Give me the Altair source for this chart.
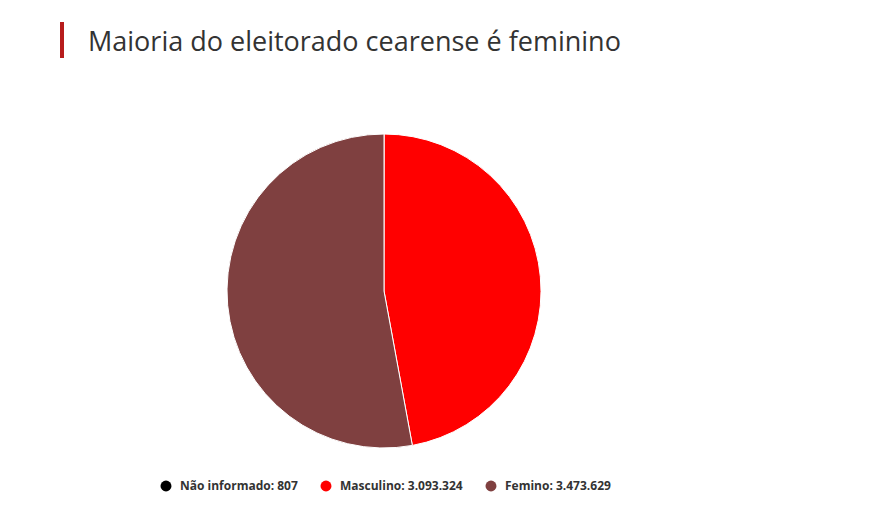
import altair as alt
import pandas as pd

categories = ["Não informado", "Masculino", "Femino"]
values = [807, 3093324, 3473629]
labels = ["Não informado: 807", "Masculino: 3.093.324", "Femino: 3.473.629"]
colors = ["#000000", "#ff0000", "#7f4040"]
title_text = "Maioria do eleitorado cearense é feminino"

df = pd.DataFrame({
    "categoria": categories,
    "valor": values,
    "rotulo": labels,
    "ordem": list(range(len(categories))),
})

W, H = 850, 500

pie = alt.Chart(df).mark_arc(
    outerRadius=157, stroke="white", strokeWidth=1
).encode(
    theta=alt.Theta("valor:Q", stack=True),
    order=alt.Order("ordem:Q"),
    color=alt.Color(
        "rotulo:N",
        scale=alt.Scale(domain=labels, range=colors),
        sort=labels,
        legend=alt.Legend(
            title=None,
            orient="none",
            direction="horizontal",
            legendX=152,
            legendY=472,
            symbolType="circle",
            symbolSize=120,
            symbolStrokeWidth=0,
            labelFont="Open Sans",
            labelFontWeight="bold",
            labelFontSize=12,
            labelColor="#333333",
            labelOffset=8,
            columnPadding=22,
        ),
    ),
    x=alt.value(376),
    y=alt.value(283),
)

bar_df = pd.DataFrame({"t": [title_text]})
bar = alt.Chart(bar_df).mark_rect(color="#b71c1c").encode(
    x=alt.value(52), x2=alt.value(56), y=alt.value(14), y2=alt.value(50)
)
title = alt.Chart(bar_df).mark_text(
    align="left", baseline="alphabetic", font="Open Sans", fontSize=27,
    color="#333333"
).encode(
    text="t:N", x=alt.value(80), y=alt.value(43)
)

chart = alt.layer(pie, bar, title).properties(
    width=W, height=H,
    autosize=alt.AutoSizeParams(type="none"),
    padding=0,
    view=alt.ViewBackground(stroke=None, strokeWidth=0),
).configure_view(strokeWidth=0, stroke=None).configure(background="white")

chart.save("out.html", embed_options={"renderer": "svg", "actions": False})
